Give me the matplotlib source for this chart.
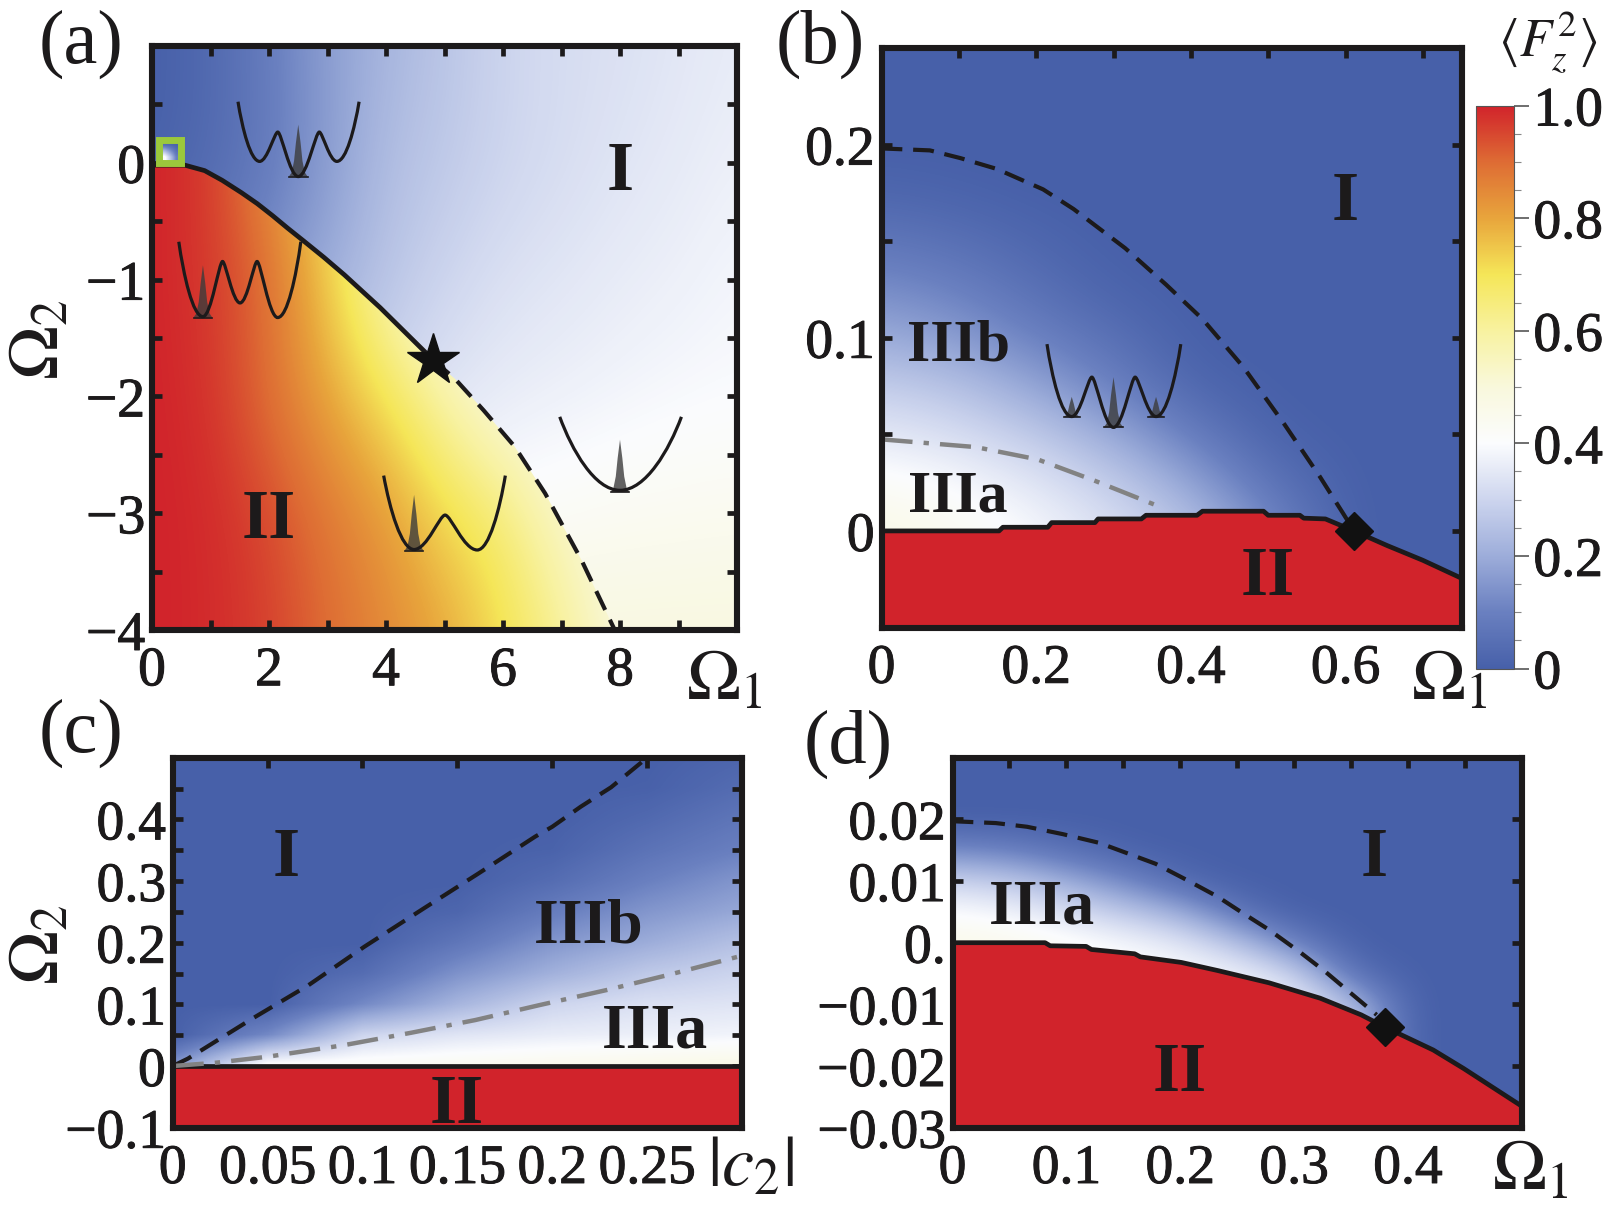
import numpy as np
import matplotlib
matplotlib.use('Agg')
import matplotlib.pyplot as plt
import matplotlib.patheffects as pe
from matplotlib.colors import LinearSegmentedColormap
from matplotlib.patches import PathPatch, Polygon, Rectangle
from matplotlib.path import Path

W, H = 1612, 1209
plt.rcParams['font.family'] = ['Liberation Serif', 'DejaVu Serif']
plt.rcParams['mathtext.fontset'] = 'stix'

INK = '#1c1a1b'
TICK_SIZE = 40
heavy = [pe.withStroke(linewidth=0.7, foreground=INK)]

# colour scale stops
cbar_stops = [0.0, 0.1, 0.2, 0.3, 0.4, 0.5, 0.6, 0.7, 0.8, 0.9, 1.0]
cbar_colors = ['#4760a9', '#6a80c0', '#9dadda', '#cdd5ee', '#fbfcfe', '#f9f8dc',
               '#f8f2a0', '#f5e658', '#e8a53c', '#de6c34', '#d1232b']

# panel (a)
a_xticks = [0, 1, 2, 3, 4, 5, 6, 7, 8, 9]
a_xlabels = ['0', '', '2', '', '4', '', '6', '', '8', '']
a_yticks = [-4, -3.5, -3, -2.5, -2, -1.5, -1, -0.5, 0, 0.5]
a_ylabels = ['\u22124', '', '\u22123', '', '\u22122', '', '\u22121', '', '0', '']
a_solid_x = [0.0, 0.56, 0.9, 1.2, 1.53, 1.8, 2.06, 2.32, 2.59, 2.94, 3.29, 3.9, 4.81]
a_solid_y = [-0.02, -0.02, -0.067, -0.15, -0.256, -0.35, -0.452, -0.56, -0.668, -0.81, -0.96, -1.24, -1.69]
a_dash_x = [4.81, 5.18, 5.67, 6.2, 6.72, 7.34, 7.91]
a_dash_y = [-1.69, -1.85, -2.12, -2.43, -2.83, -3.4, -4.0]
a_grid_x = [0, 1, 2, 3, 4, 5, 6, 7, 8, 9, 10]
a_grid_y = [1, 0, -1, -2, -3, -4]
a_upper = [[0.0, 0.03, 0.09, 0.17, 0.22, 0.26, 0.30, 0.32, 0.33, 0.345, 0.36],
           [0.0, 0.03, 0.08, 0.16, 0.24, 0.27, 0.30, 0.32, 0.34, 0.355, 0.37],
           [0.05, 0.08, 0.14, 0.2, 0.26, 0.30, 0.33, 0.345, 0.36, 0.37, 0.385],
           [0.1, 0.15, 0.2, 0.26, 0.3, 0.34, 0.36, 0.37, 0.38, 0.39, 0.395],
           [0.2, 0.25, 0.3, 0.35, 0.38, 0.40, 0.41, 0.42, 0.43, 0.435, 0.44],
           [0.3, 0.33, 0.36, 0.4, 0.43, 0.46, 0.48, 0.49, 0.49, 0.49, 0.49]]
a_lower = [[1.0, 0.97, 0.84, 0.72, 0.6, 0.5, 0.45, 0.45, 0.45, 0.45, 0.45],
           [1.0, 0.97, 0.84, 0.72, 0.6, 0.5, 0.45, 0.45, 0.45, 0.45, 0.45],
           [1.0, 0.97, 0.90, 0.74, 0.56, 0.48, 0.45, 0.45, 0.45, 0.45, 0.45],
           [1.0, 0.98, 0.89, 0.80, 0.70, 0.58, 0.48, 0.46, 0.45, 0.45, 0.45],
           [1.0, 0.99, 0.95, 0.88, 0.82, 0.72, 0.66, 0.53, 0.46, 0.45, 0.45],
           [1.0, 0.99, 0.96, 0.90, 0.85, 0.80, 0.71, 0.62, 0.50, 0.46, 0.45]]
a_inset = [[0.04, 0.01], [0.42, 0.1]]
a_star = (4.81, -1.69)

# panel (b)
b_xticks = [0, 0.1, 0.2, 0.3, 0.4, 0.5, 0.6, 0.7]
b_xlabels = ['0', '', '0.2', '', '0.4', '', '0.6', '']
b_yticks = [0, 0.05, 0.1, 0.15, 0.2]
b_ylabels = ['0', '', '0.1', '', '0.2']
b_solid_x = [0, 0.152, 0.157, 0.215, 0.22, 0.276, 0.28, 0.336, 0.342, 0.408, 0.415, 0.494,
             0.5, 0.541, 0.546, 0.574, 0.611, 0.654, 0.7, 0.75]
b_solid_y = [0, 0, 0.0019, 0.0019, 0.0043, 0.0043, 0.0062, 0.0062, 0.0081, 0.0081, 0.0102, 0.0102,
             0.0081, 0.0081, 0.0066, 0.0062, 0.0, -0.0076, -0.0152, -0.0245]
b_dash_x = [0, 0.0625, 0.102, 0.149, 0.209, 0.2485, 0.315, 0.368, 0.415, 0.468, 0.521, 0.567, 0.597, 0.611]
b_dash_y = [0.198, 0.197, 0.193, 0.1874, 0.1768, 0.1666, 0.1464, 0.1275, 0.1097, 0.0848, 0.0552, 0.028, 0.009, 0.0]
b_gray_x = [0, 0.122, 0.202, 0.275, 0.355]
b_gray_y = [0.0474, 0.0434, 0.037, 0.0261, 0.0133]
b_grid_x = [0, 0.1, 0.2, 0.3, 0.4, 0.5, 0.6, 0.7]
b_grid_y = [0.25, 0.225, 0.2, 0.175, 0.15, 0.125, 0.1, 0.075, 0.05, 0.025, 0.0, -0.025, -0.05]
b_upper = [[0, 0, 0, 0, 0, 0, 0, 0],
           [0, 0, 0, 0, 0, 0, 0, 0],
           [0, 0, 0, 0, 0, 0, 0, 0],
           [0.02, 0.01, 0, 0, 0, 0, 0, 0],
           [0.07, 0.05, 0.02, 0, 0, 0, 0, 0],
           [0.13, 0.10, 0.05, 0.01, 0, 0, 0, 0],
           [0.20, 0.16, 0.10, 0.05, 0, 0, 0, 0],
           [0.28, 0.25, 0.18, 0.10, 0.02, 0, 0, 0],
           [0.35, 0.32, 0.27, 0.19, 0.09, 0.01, 0, 0],
           [0.42, 0.39, 0.34, 0.28, 0.18, 0.06, 0, 0],
           [0.47, 0.44, 0.39, 0.33, 0.26, 0.13, 0, 0],
           [0.47, 0.44, 0.39, 0.33, 0.26, 0.13, 0, 0],
           [0.47, 0.44, 0.39, 0.33, 0.26, 0.13, 0, 0]]
b_diamond = (0.611, 0.0)

# panel (c)
c_xticks = [0, 0.05, 0.1, 0.15, 0.2, 0.25]
c_xlabels = ['0', '0.05', '0.1', '0.15', '0.2', '0.25']
c_yticks = [-0.1, -0.05, 0, 0.05, 0.1, 0.15, 0.2, 0.25, 0.3, 0.35, 0.4, 0.45]
c_ylabels = ['\u22120.1', '', '0', '', '0.1', '', '0.2', '', '0.3', '', '0.4', '']
c_dash_x = [0, 0.008, 0.042, 0.0715, 0.101, 0.1325, 0.161, 0.191, 0.2, 0.215, 0.231, 0.25]
c_dash_y = [0, 0.012, 0.077, 0.131, 0.1935, 0.256, 0.312, 0.372, 0.388, 0.4205, 0.452, 0.5]
c_gray_x = [0, 0.0228, 0.05, 0.0905, 0.1257, 0.1595, 0.1934, 0.2286, 0.261, 0.3]
c_gray_y = [0, 0.0054, 0.0151, 0.034, 0.054, 0.0746, 0.0989, 0.1232, 0.1476, 0.179]
c_grid_x = [0, 0.05, 0.1, 0.15, 0.2, 0.25, 0.3]
c_grid_y = [0.5, 0.45, 0.4, 0.35, 0.3, 0.25, 0.2, 0.15, 0.1, 0.05, 0.0]
c_upper = [[0, 0, 0, 0, 0, 0.0, 0.02],
           [0, 0, 0, 0, 0, 0.005, 0.04],
           [0, 0, 0, 0, 0.0, 0.03, 0.07],
           [0, 0, 0, 0, 0.01, 0.06, 0.10],
           [0, 0, 0, 0.0, 0.04, 0.10, 0.15],
           [0, 0, 0, 0.02, 0.09, 0.15, 0.19],
           [0, 0, 0.0, 0.07, 0.15, 0.20, 0.25],
           [0, 0, 0.04, 0.14, 0.21, 0.27, 0.30],
           [0, 0.0, 0.12, 0.22, 0.30, 0.33, 0.34],
           [0, 0.12, 0.30, 0.34, 0.36, 0.37, 0.38],
           [0.15, 0.42, 0.43, 0.44, 0.45, 0.46, 0.47]]

# panel (d)
d_xticks = [0, 0.05, 0.1, 0.15, 0.2, 0.25, 0.3, 0.35, 0.4, 0.45]
d_xlabels = ['0', '', '0.1', '', '0.2', '', '0.3', '', '0.4', '']
d_yticks = [-0.03, -0.02, -0.01, 0, 0.01, 0.02]
d_ylabels = ['\u22120.03', '\u22120.02', '\u22120.01', '0.', '0.01', '0.02']
d_solid_x = [0, 0.0813, 0.0858, 0.1174, 0.122, 0.16, 0.165, 0.201, 0.2326, 0.278, 0.323, 0.359, 0.38, 0.4223, 0.449, 0.5]
d_solid_y = [0, 0, -0.0005, -0.0006, -0.0011, -0.0018, -0.0023, -0.0032, -0.0045, -0.0065, -0.009, -0.0117, -0.0137,
             -0.0174, -0.0204, -0.0265]
d_dash_x = [0, 0.038, 0.0655, 0.097, 0.1287, 0.1536, 0.1784, 0.2055, 0.2326, 0.255, 0.278, 0.305, 0.3275, 0.35, 0.3726]
d_dash_y = [0.0197, 0.0194, 0.0188, 0.0176, 0.0162, 0.0145, 0.0128, 0.0102, 0.0075, 0.0048, 0.0021, -0.0015, -0.0047,
            -0.0082, -0.0117]
d_grid_x = [0, 0.05, 0.1, 0.15, 0.2, 0.25, 0.3, 0.35, 0.4, 0.45, 0.5]
d_grid_y = [0.03, 0.025, 0.02, 0.015, 0.01, 0.005, 0.0, -0.005, -0.01, -0.015, -0.02, -0.025, -0.03]
d_upper = [[0, 0, 0, 0, 0, 0, 0, 0, 0, 0, 0],
           [0, 0, 0, 0, 0, 0, 0, 0, 0, 0, 0],
           [0, 0, 0, 0, 0, 0, 0, 0, 0, 0, 0],
           [0.12, 0.10, 0.05, 0.01, 0, 0, 0, 0, 0, 0, 0],
           [0.30, 0.27, 0.20, 0.12, 0.03, 0, 0, 0, 0, 0, 0],
           [0.40, 0.38, 0.33, 0.27, 0.20, 0.06, 0, 0, 0, 0, 0],
           [0.46, 0.45, 0.42, 0.39, 0.35, 0.25, 0.10, 0, 0, 0, 0],
           [0.46, 0.45, 0.44, 0.42, 0.40, 0.38, 0.30, 0.05, 0, 0, 0],
           [0.46, 0.45, 0.44, 0.42, 0.40, 0.40, 0.38, 0.25, 0, 0, 0],
           [0.46, 0.45, 0.44, 0.42, 0.40, 0.40, 0.38, 0.30, 0, 0, 0],
           [0.46, 0.45, 0.44, 0.42, 0.40, 0.40, 0.38, 0.30, 0, 0, 0],
           [0.46, 0.45, 0.44, 0.42, 0.40, 0.40, 0.38, 0.30, 0, 0, 0],
           [0.46, 0.45, 0.44, 0.42, 0.40, 0.40, 0.38, 0.30, 0, 0, 0]]
d_diamond = (0.38, -0.0137)

# wells: x/y of the turning points, in each panel's data units
well_a1_x = [1.47, 1.84, 2.15, 2.50, 2.86, 3.16, 3.54]
well_a1_y = [0.523, 0.012, 0.263, -0.118, 0.263, 0.012, 0.523]
well_a2_x = [0.458, 0.871, 1.206, 1.505, 1.796, 2.148, 2.544]
well_a2_y = [-0.676, -1.317, -0.845, -1.2, -0.845, -1.325, -0.676]
well_a3_x = [3.96, 4.48, 5.01, 5.56, 6.04]
well_a3_y = [-2.678, -3.311, -3.016, -3.315, -2.678]
well_a4_x = [6.97, 8.0, 9.05]
well_a4_y = [-2.175, -2.804, -2.175]
well_b_x = [0.214, 0.246, 0.272, 0.300, 0.328, 0.355, 0.387]
well_b_y = [0.0967, 0.0592, 0.0796, 0.0536, 0.0796, 0.0592, 0.0967]

spike_prof_x = [-1, -0.7, -0.45, -0.25, 0, 0.25, 0.45, 0.7, 1]
spike_prof_y = [0, 0.08, 0.3, 0.65, 1, 0.65, 0.3, 0.08, 0]


def px_axes(left, top, right, bottom):
    return fig.add_axes([left / W, 1 - bottom / H, (right - left) / W, (bottom - top) / H])


def heat(ax, gx, gy, table, interp='bicubic', clip=None):
    dx = abs(gx[1] - gx[0]) / 2
    dy = abs(gy[1] - gy[0]) / 2
    im = ax.imshow(table, cmap=cmap, vmin=0, vmax=1, aspect='auto', interpolation=interp,
                   interpolation_stage='data',
                   extent=(gx[0] - dx, gx[-1] + dx, gy[-1] - dy, gy[0] + dy), zorder=1)
    if clip is not None:
        im.set_clip_path(clip)
    return im


def frame(ax, xlim, ylim, xticks, xlabels, yticks, ylabels, xpad=11):
    ax.set_xlim(xlim)
    ax.set_ylim(ylim)
    ax.set_xticks(xticks, xlabels)
    ax.set_yticks(yticks, ylabels)
    ax.tick_params(axis='both', direction='in', top=True, right=True, length=7, width=3.4,
                   color=INK, labelcolor=INK, labelsize=TICK_SIZE)
    ax.tick_params(axis='x', pad=xpad)
    ax.tick_params(axis='y', pad=5)
    for lbl in ax.get_xticklabels() + ax.get_yticklabels():
        lbl.set_path_effects(heavy)
    for sp in ax.spines.values():
        sp.set_linewidth(4.4)
        sp.set_color(INK)
        sp.set_zorder(8)


def well(ax, xs, ys):
    verts = [(xs[0], ys[0])]
    codes = [Path.MOVETO]
    last = len(xs) - 1
    for i in range(last):
        dx = xs[i + 1] - xs[i]
        dy = ys[i + 1] - ys[i]
        if i == 0:
            c0 = (xs[i] + 0.2 * dx, ys[i] + 0.45 * dy)
        else:
            k = 0.18 if ys[i] > ys[i + 1] else 0.42
            c0 = (xs[i] + k * dx, ys[i])
        if i + 1 == last:
            c1 = (xs[i + 1] - 0.2 * dx, ys[i + 1] - 0.45 * dy)
        else:
            k = 0.18 if ys[i + 1] > ys[i] else 0.42
            c1 = (xs[i + 1] - k * dx, ys[i + 1])
        verts += [c0, c1, (xs[i + 1], ys[i + 1])]
        codes += [Path.CURVE4, Path.CURVE4, Path.CURVE4]
    ax.add_patch(PathPatch(Path(verts, codes), fc='none', ec=INK, lw=2.3, zorder=5))


def spike(ax, x, top, base, half):
    sx = x + half * np.array(spike_prof_x)
    sy = base + (top - base) * np.array(spike_prof_y)
    ax.fill(sx, sy, color='#3c3c3c', alpha=0.8, lw=0, zorder=4)
    ax.plot([x - half, x + half], [base, base], color=INK, lw=1.2, zorder=5)


def curve(ax, xs, ys, kind):
    if kind == 'solid':
        ax.plot(xs, ys, color=INK, lw=3.4, zorder=6, solid_capstyle='butt')
    elif kind == 'dash':
        ax.plot(xs, ys, color=INK, lw=3.0, ls=(0, (5, 2.6)), zorder=6)
    else:
        ax.plot(xs, ys, color='#828282', lw=3.2, ls=(0, (7, 2.5, 1.2, 2.5)), zorder=6)


def region(ax, x, y, s, size=50):
    ax.text(x, y, s, fontsize=size, fontweight='bold', color=INK, ha='center', va='center_baseline', zorder=7)


def label(x, y, s, size=50, **kw):
    fig.text(x / W, 1 - y / H, s, fontsize=size, color=INK, va='center', **kw)


cmap = LinearSegmentedColormap.from_list('fz2', list(zip(cbar_stops, cbar_colors)), N=512)
red = cmap(1.0)

fig = plt.figure(figsize=(W / 100, H / 100), dpi=100)

# (a)
ax = px_axes(152, 46, 737, 630)
heat(ax, a_grid_x, a_grid_y, a_upper)
poly_a = a_solid_x + a_dash_x[1:] + [0]
poly_a_y = a_solid_y + a_dash_y[1:] + [-4]
clip_a = Polygon(list(zip(poly_a, poly_a_y)), closed=True, transform=ax.transData)
heat(ax, a_grid_x, a_grid_y, a_lower, clip=clip_a)
curve(ax, a_solid_x, a_solid_y, 'solid')
curve(ax, a_dash_x, a_dash_y, 'dash')
ax.imshow(a_inset, cmap=cmap, vmin=0, vmax=1, aspect='auto', interpolation='bilinear',
          extent=(0.12, 0.5, 0.0, 0.197), zorder=6)
ax.add_patch(Rectangle((0.12, 0.0), 0.38, 0.197, fc='none', ec='#9bc83c', lw=5, zorder=7))
ax.plot(*a_star, marker='*', ms=39, color='#111111', zorder=9, clip_on=False)
for xs, ys in [(well_a1_x, well_a1_y), (well_a2_x, well_a2_y), (well_a3_x, well_a3_y), (well_a4_x, well_a4_y)]:
    well(ax, xs, ys)
spike(ax, 2.50, 0.327, -0.118, 0.16)
spike(ax, 0.871, -0.877, -1.325, 0.16)
spike(ax, 4.48, -2.843, -3.32, 0.16)
spike(ax, 8.0, -2.371, -2.82, 0.16)
frame(ax, (0, 10), (-4, 1), a_xticks, a_xlabels, a_yticks, a_ylabels)
region(ax, 8, -0.02, 'I')
region(ax, 2, -3.0, 'II')

# (b)
ax = px_axes(881.5, 48, 1461.5, 627.5)
heat(ax, b_grid_x, b_grid_y, b_upper)
ax.fill_between(b_solid_x, b_solid_y, -0.05, color=red, lw=0, zorder=2)
curve(ax, b_solid_x, b_solid_y, 'solid')
curve(ax, b_dash_x, b_dash_y, 'dash')
curve(ax, b_gray_x, b_gray_y, 'gray')
ax.plot(*b_diamond, marker='D', ms=19, color='#111111', zorder=9)
well(ax, well_b_x, well_b_y)
spike(ax, 0.246, 0.0694, 0.059, 0.0106)
spike(ax, 0.300, 0.0796, 0.0536, 0.0126)
spike(ax, 0.355, 0.0694, 0.059, 0.0106)
frame(ax, (0, 0.75), (-0.05, 0.25), b_xticks, b_xlabels, b_yticks, b_ylabels)
region(ax, 0.6, 0.1737, 'I')
region(ax, 0.099, 0.099, 'IIIb', 43)
region(ax, 0.099, 0.0209, 'IIIa', 43)
region(ax, 0.5, -0.0206, 'II')
mappable = ax.images[0]

# (c)
ax = px_axes(172.7, 757.7, 742, 1127.7)
heat(ax, c_grid_x, c_grid_y, c_upper, interp='bilinear')
ax.fill_between([0, 0.3], [0, 0], -0.1, color=red, lw=0, zorder=2)
curve(ax, [0, 0.3], [0, 0], 'solid')
curve(ax, c_dash_x, c_dash_y, 'dash')
curve(ax, c_gray_x, c_gray_y, 'gray')
frame(ax, (0, 0.3), (-0.1, 0.5), c_xticks, c_xlabels, c_yticks, c_ylabels)
region(ax, 0.06, 0.3476, 'I')
region(ax, 0.2194, 0.2368, 'IIIb', 46)
region(ax, 0.2543, 0.0665, 'IIIa', 46)
region(ax, 0.1495, -0.0524, 'II')

# (d)
ax = px_axes(952.5, 757.7, 1521.7, 1127.7)
heat(ax, d_grid_x, d_grid_y, d_upper)
ax.fill_between(d_solid_x, d_solid_y, -0.03, color=red, lw=0, zorder=2)
curve(ax, d_solid_x, d_solid_y, 'solid')
curve(ax, d_dash_x, d_dash_y, 'dash')
ax.plot(*d_diamond, marker='D', ms=19, color='#111111', zorder=9)
frame(ax, (0, 0.5), (-0.03, 0.03), d_xticks, d_xlabels, d_yticks, d_ylabels)
region(ax, 0.37, 0.01476, 'I')
region(ax, 0.079, 0.00676, 'IIIa', 46)
region(ax, 0.2, -0.0201, 'II')

# colour bar
cax = px_axes(1475.5, 105.5, 1514, 668.5)
cb = fig.colorbar(mappable, cax=cax)
cb.set_ticks([0, 0.2, 0.4, 0.6, 0.8, 1.0], labels=['0', '0.2', '0.4', '0.6', '0.8', '1.0'])
cb.set_ticks(np.arange(0, 1.01, 0.05), minor=True)
cax.tick_params(which='major', length=11, width=1.2, color='#555555', labelsize=TICK_SIZE, labelcolor=INK, pad=3)
cax.tick_params(which='minor', length=5, width=0.8, color='#888888')
for lbl in cax.get_yticklabels():
    lbl.set_path_effects(heavy)
cb.outline.set_edgecolor('#555555')
cb.outline.set_linewidth(0.8)

# panel letters and axis names
label(39, 44, '(a)', 55)
label(776, 44, '(b)', 55)
label(39, 733, '(c)', 55)
label(804, 744, '(d)', 55)
label(686, 682, r'$\Omega_1$', 52)
label(1411, 682, r'$\Omega_1$', 52)
label(1492, 1172, r'$\Omega_1$', 52)
label(707, 1168, r'$|c_2|$', 52)
label(41, 340, r'$\Omega_2$', 52, rotation=90, ha='center')
label(41, 945, r'$\Omega_2$', 52, rotation=90, ha='center')
label(1498, 42, r'$\langle F_z^2\rangle$', 38)

fig.savefig('out.png', dpi=100)
